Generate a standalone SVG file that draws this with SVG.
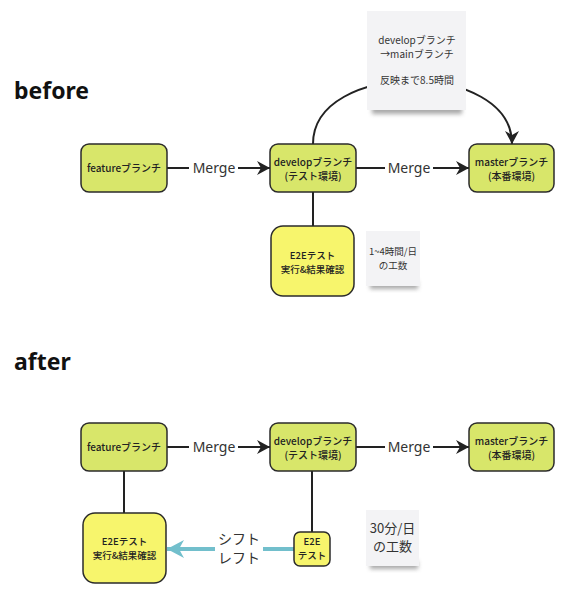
<svg xmlns="http://www.w3.org/2000/svg" width="586" height="600" viewBox="0 0 586 600">
<defs>
<style>
.node{fill:#d8e66a;stroke:#2b2b2b;stroke-width:1.5}
.e2e{fill:#f7f56c;stroke:#2b2b2b;stroke-width:1.5}
.note{fill:#f3f3f5}
.nt{font-family:"Noto Sans CJK JP","Noto Sans",sans-serif;font-size:10px;font-weight:500;fill:#222;text-anchor:middle}
.nts{font-family:"Noto Sans CJK JP","Noto Sans",sans-serif;font-size:9.5px;font-weight:500;fill:#222;text-anchor:middle}
.st{font-family:"Noto Sans CJK JP","Noto Sans",sans-serif;font-size:10px;fill:#333;text-anchor:middle}
.sts{font-family:"Noto Sans CJK JP","Noto Sans",sans-serif;font-size:9.5px;fill:#333;text-anchor:middle}
.lbl{font-family:"Noto Sans","Noto Sans CJK JP",sans-serif;font-size:14px;fill:#333;text-anchor:middle}
.hd{font-family:"Noto Sans","Noto Sans CJK JP",sans-serif;font-size:23px;font-weight:bold;fill:#111}
.ln{stroke:#222;stroke-width:2;fill:none}
.cy{stroke:#72bfcc;stroke-width:4;fill:none}
</style>
<marker id="ah" markerUnits="userSpaceOnUse" markerWidth="14" markerHeight="14" refX="13" refY="7" orient="auto">
<path d="M0,0 L13,7 L0,14 L4,7 z" fill="#222"/>
</marker>
<marker id="ahc" markerUnits="userSpaceOnUse" markerWidth="18" markerHeight="20" refX="17" refY="10" orient="auto">
<path d="M0,1 L17,10 L0,19 L5,10 z" fill="#72bfcc"/>
</marker>
<filter id="sh" x="-20%" y="-50%" width="140%" height="200%">
<feGaussianBlur stdDeviation="2"/>
</filter>
</defs>
<rect width="586" height="600" fill="#ffffff"/>

<text class="hd" x="14" y="99">before</text>
<text class="hd" x="14" y="370">after</text>

<g id="connectors">
<path class="ln" d="M313,144 C313,60 512,60 512,144" marker-end="url(#ah)"/>
<line class="ln" x1="167" y1="168" x2="189" y2="168"/>
<line class="ln" x1="238" y1="168" x2="270" y2="168" marker-end="url(#ah)"/>
<text class="lbl" x="214" y="173">Merge</text>
<line class="ln" x1="356" y1="168" x2="385" y2="168"/>
<line class="ln" x1="433" y1="168" x2="469" y2="168" marker-end="url(#ah)"/>
<text class="lbl" x="409" y="173">Merge</text>
<line class="ln" x1="313" y1="192" x2="313" y2="226"/>

<line class="ln" x1="167" y1="447" x2="189" y2="447"/>
<line class="ln" x1="238" y1="447" x2="270" y2="447" marker-end="url(#ah)"/>
<text class="lbl" x="214" y="452">Merge</text>
<line class="ln" x1="356" y1="447" x2="385" y2="447"/>
<line class="ln" x1="433" y1="447" x2="469" y2="447" marker-end="url(#ah)"/>
<text class="lbl" x="409" y="452">Merge</text>
<line class="ln" x1="124" y1="471" x2="124" y2="513"/>
<line class="ln" x1="312" y1="471" x2="312" y2="532"/>
<line class="cy" x1="294" y1="549" x2="263" y2="549"/>
<line class="cy" x1="215" y1="549" x2="167" y2="549" marker-end="url(#ahc)"/>
<text class="lbl" x="239" y="544">シフト</text>
<text class="lbl" x="239" y="563">レフト</text>
</g>

<g id="note-top">
<rect x="372" y="104" width="90" height="10" fill="#555" opacity="0.5" filter="url(#sh)"/>
<rect class="note" x="367" y="11" width="99" height="99"/>
<text class="st" x="417" y="44">developブランチ</text>
<text class="st" x="417" y="58">→mainブランチ</text>
<text class="st" x="417" y="84">反映まで8.5時間</text>
</g>

<g id="feature-before">
<rect class="node" x="81" y="144" width="86" height="48" rx="8"/>
<text class="nt" x="124" y="171.5">featureブランチ</text>
</g>
<g id="develop-before">
<rect class="node" x="270" y="144" width="86" height="48" rx="8"/>
<text class="nt" x="313" y="165.5">developブランチ</text>
<text class="nt" x="313" y="179.5">(テスト環境)</text>
</g>
<g id="master-before">
<rect class="node" x="469" y="144" width="85" height="48" rx="8"/>
<text class="nt" x="511.5" y="165.5">masterブランチ</text>
<text class="nt" x="511.5" y="179.5">(本番環境)</text>
</g>
<g id="e2e-before">
<rect class="e2e" x="271" y="226" width="83" height="70" rx="12"/>
<text class="nts" x="312.5" y="258.5">E2Eテスト</text>
<text class="nts" x="312.5" y="272.5">実行&amp;結果確認</text>
</g>
<g id="note-before">
<rect x="370" y="281" width="48" height="8" fill="#555" opacity="0.5" filter="url(#sh)"/>
<rect class="note" x="366" y="231" width="54" height="55"/>
<text class="sts" x="393" y="254.5">1~4時間/日</text>
<text class="sts" x="393" y="268.5">の工数</text>
</g>

<g id="feature-after">
<rect class="node" x="81" y="423" width="86" height="48" rx="8"/>
<text class="nt" x="124" y="450.5">featureブランチ</text>
</g>
<g id="develop-after">
<rect class="node" x="270" y="423" width="86" height="48" rx="8"/>
<text class="nt" x="313" y="444.5">developブランチ</text>
<text class="nt" x="313" y="458.5">(テスト環境)</text>
</g>
<g id="master-after">
<rect class="node" x="469" y="423" width="85" height="48" rx="8"/>
<text class="nt" x="511.5" y="444.5">masterブランチ</text>
<text class="nt" x="511.5" y="458.5">(本番環境)</text>
</g>
<g id="e2e-after">
<rect class="e2e" x="83" y="513" width="83" height="70" rx="12"/>
<text class="nts" x="124.5" y="545">E2Eテスト</text>
<text class="nts" x="124.5" y="559">実行&amp;結果確認</text>
</g>
<g id="e2e-small">
<rect class="e2e" x="294" y="532" width="36" height="34" rx="6"/>
<text class="nts" x="312" y="545">E2E</text>
<text class="nts" x="312" y="559">テスト</text>
</g>
<g id="note-after">
<rect x="370" y="561" width="48" height="8" fill="#555" opacity="0.5" filter="url(#sh)"/>
<rect class="note" x="366" y="510" width="53" height="56"/>
<text class="st" x="392.5" y="532.5" style="font-size:13px">30分/日</text>
<text class="st" x="392.5" y="550.5" style="font-size:13px">の工数</text>
</g>
</svg>
